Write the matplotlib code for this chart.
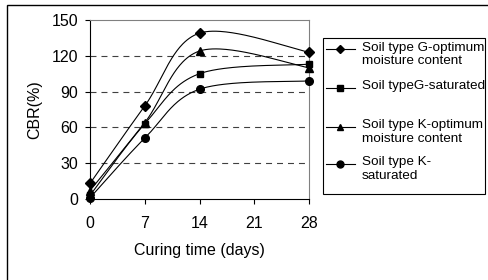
import numpy as np
import matplotlib
matplotlib.use("Agg")
import matplotlib.pyplot as plt
from matplotlib.lines import Line2D
from matplotlib.patches import Rectangle

plt.rcParams['font.family'] = ['Liberation Sans', 'DejaVu Sans']
plt.rcParams['lines.scale_dashes'] = False

days = [0, 7, 14, 28]
g_opt = [13, 78, 139, 123]
g_sat = [3, 63, 105, 113]
k_opt = [7, 64, 124, 110]
k_sat = [1, 51, 92, 99]
labels = ["Soil type G-optimum\nmoisture content",
          "Soil typeG-saturated",
          "Soil type K-optimum\nmoisture content",
          "Soil type K-\nsaturated"]
markers = ['D', 's', '^', 'o']
msizes = [5.0, 5.0, 5.5, 5.5]
series = [g_opt, g_sat, k_opt, k_sat]
xticks = [0, 7, 14, 21, 28]
yticks = [0, 30, 60, 90, 120, 150]


def smooth(x, y, n=60):
    P = np.column_stack([x, y]).astype(float)
    out = [P[0]]
    m = len(P)
    for i in range(m - 1):
        p0 = P[i - 1] if i > 0 else P[i]
        p1 = P[i]
        p2 = P[i + 1]
        p3 = P[i + 2] if i + 2 < m else P[i + 1]
        c1 = p1 + (p2 - p0) / 6.0
        c2 = p2 - (p3 - p1) / 6.0
        t = np.linspace(0, 1, n)[1:, None]
        b = ((1 - t) ** 3) * p1 + 3 * ((1 - t) ** 2) * t * c1 + 3 * (1 - t) * t ** 2 * c2 + t ** 3 * p2
        out.extend(b)
    out = np.array(out)
    return out[:, 0], out[:, 1]


W, H = 489, 280
fig = plt.figure(figsize=(W / 100, H / 100), dpi=100)
ax = fig.add_axes([90 / W, 1 - 199 / H, (309 - 90) / W, (199 - 20) / H])

for yv in [30, 60, 90, 120]:
    ax.axhline(yv, color='#404040', lw=0.8, dashes=(4.3, 3.6), zorder=1)

for ys, mk, ms in zip(series, markers, msizes):
    sx, sy = smooth(days, ys)
    ax.plot(sx, sy, color='black', lw=0.8, zorder=3, clip_on=False)
    ax.plot(days, ys, ls='none', marker=mk, ms=ms, color='black', zorder=4, clip_on=False)

ax.set_xlim(0, 28)
ax.set_ylim(0, 150)
ax.set_xticks(xticks)
ax.set_yticks(yticks)
ax.tick_params(axis='both', labelsize=11.5, length=3.5, width=0.8, color='black', direction='out')
ax.tick_params(axis='x', pad=8.5)
ax.tick_params(axis='y', pad=5)
for s in ['left', 'bottom']:
    ax.spines[s].set_color('black')
    ax.spines[s].set_linewidth(0.8)
for s in ['right', 'top']:
    ax.spines[s].set_color('#808080')
    ax.spines[s].set_linewidth(0.8)
ax.set_xlabel("Curing time (days)", fontsize=11.5, labelpad=9)
ax.set_ylabel("CBR(%)", fontsize=11.5, labelpad=7)

# legend (manual, Excel-like)
fig.patches.append(Rectangle((323 / W, 1 - 194 / H), (485 - 323) / W, (194 - 38) / H,
                             transform=fig.transFigure, fill=False, ec='black', lw=0.8))
entry_y = [49, 88, 127, 164]
for lab, mk, ms, ey in zip(labels, markers, msizes, entry_y):
    yy = 1 - ey / H
    fig.add_artist(Line2D([326 / W, 355 / W], [yy, yy], color='black', lw=0.8,
                          transform=fig.transFigure))
    fig.add_artist(Line2D([340.5 / W], [yy], marker=mk, ms=ms - 0.5, color='black',
                          transform=fig.transFigure))
    fig.text(362 / W, yy + 7.5 / H, lab, fontsize=9.7, va='top', ha='left', linespacing=1.2)

# outer chart border (cropped)
fig.patches.append(Rectangle((7 / W, -0.2), 1.2, 1.2 - 5 / H, transform=fig.transFigure,
                             fill=False, ec='black', lw=1.0))

fig.savefig("out.png", dpi=100)
